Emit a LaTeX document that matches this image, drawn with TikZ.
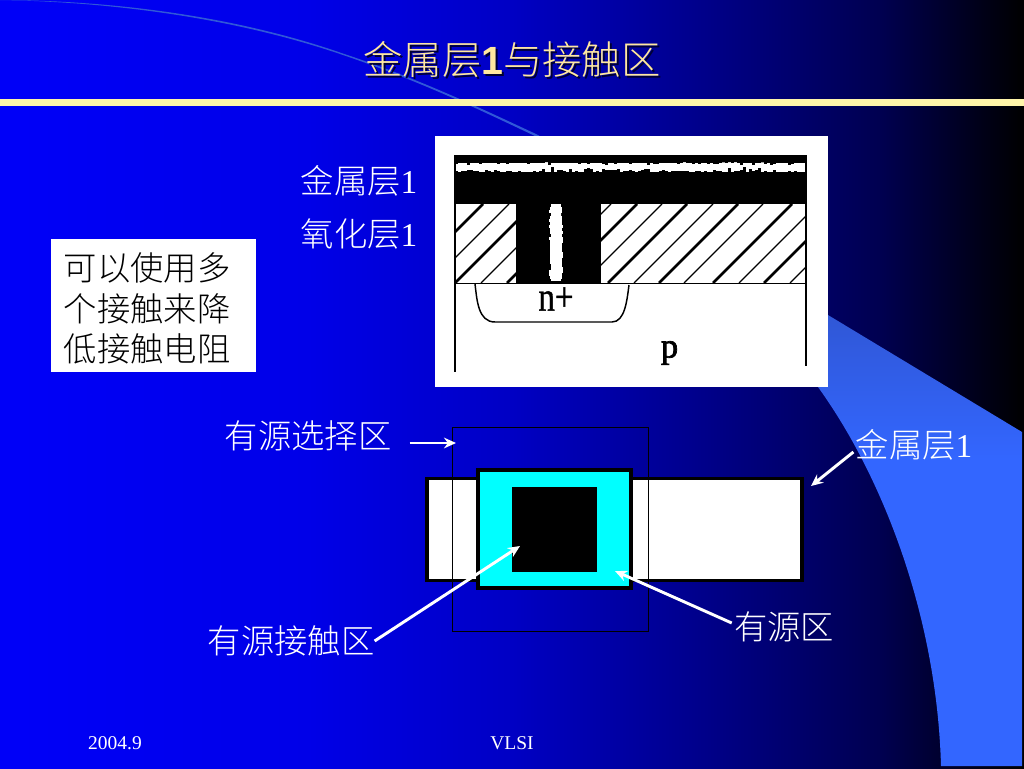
\documentclass[tikz,border=0pt]{standalone}
\usepackage{fontspec}
\setmainfont{Liberation Serif}
\newfontfamily\cjk{Noto Sans CJK SC Light}
\newfontfamily\arialf{Liberation Sans}
\newfontfamily\bmpn[FakeBold=1]{Liberation Serif}
\newfontfamily\bmpp[FakeBold=2]{Liberation Serif}
\usetikzlibrary{arrows.meta}
\definecolor{ca}{RGB}{0,0,248}
\definecolor{cb}{RGB}{0,0,232}
\definecolor{cc}{RGB}{0,0,196}
\definecolor{cd}{RGB}{0,0,140}
\definecolor{ce}{RGB}{0,0,80}
\definecolor{cf}{RGB}{0,0,0}
\definecolor{crescent}{RGB}{51,102,255}
\definecolor{crescenttop}{RGB}{48,88,216}
\definecolor{titlecol}{RGB}{255,232,160}
\definecolor{barcol}{RGB}{255,245,170}
\definecolor{cyanbox}{RGB}{0,255,255}
\pgfdeclarehorizontalshading{slidebg}{100bp}{color(0bp)=(ca);color(25bp)=(ca);color(40bp)=(cb);color(50bp)=(cc);color(59bp)=(cd);color(68bp)=(ce);color(75bp)=(cf);color(100bp)=(cf)}
\pgfdeclareverticalshading{crescentbg}{100bp}{color(0bp)=(crescent);color(45bp)=(crescent);color(54bp)=(crescenttop);color(100bp)=(crescenttop)}
\tikzset{
  lab/.style={inner sep=0pt,text=white,font=\fontsize{25pt}{25pt}\selectfont\cjk},
  foot/.style={inner sep=0pt,text=white,font=\fontsize{14.6pt}{15pt}\selectfont},
  wharrow/.style={draw=white,line width=2.2pt,-{Stealth[length=9pt,width=8pt]}},
  hatchthin/.style={black,line width=1pt},
  hatchthick/.style={black,line width=1.9pt}
}
\begin{document}
\begin{tikzpicture}[x=0.75pt,y=-0.75pt]
\useasboundingbox (0,0) rectangle (1024,768);
\shade[shading=slidebg] (0,0) rectangle (1024,768);
% crescent
\shade[shading=crescentbg] (0,0) .. controls (120,2) and (240,20) .. (340,54)
  .. controls (420,81) and (480,110) .. (535,136)
  .. controls (650,195) and (750,300) .. (818,387)
  .. controls (885,480) and (937,620) .. (941,766)
  -- (1022,766) -- (1022,432) -- (828,315)
  .. controls (730,250) and (640,190) .. (536,134)
  .. controls (480,108) and (420,79) .. (340,52.5)
  .. controls (240,18) and (120,0.5) .. (0,0) -- cycle;
% title
\node[inner sep=0pt,text=black!80!blue,font=\fontsize{29.5pt}{30pt}\selectfont\cjk] (titleshadow) at (514,62) {金属层{\arialf\bfseries 1}与接触区};
\node[inner sep=0pt,text=titlecol,font=\fontsize{29.5pt}{30pt}\selectfont\cjk] (title) at (512,60) {金属层{\arialf\bfseries 1}与接触区};
\fill[barcol] (0,99) rectangle (1024,105.5);
% cross-section picture
\fill[white] (435,136) rectangle (828,387);
\fill[black] (454,155) rectangle (807,204);
\fill[white] (455,162) rectangle (806,172);
\pgfmathsetseed{11}
\foreach \x in {455,458,...,803}{
  \pgfmathsetmacro{\ha}{rnd*rnd*4}
  \pgfmathsetmacro{\hb}{rnd*rnd*5}
  \fill[black] (\x,162) rectangle (\x+3,162+\ha);
  \fill[black] (\x,172) rectangle (\x+3,172-\hb);
}
\begin{scope}
\clip (456,204) rectangle (806,283);
\foreach \s in {483,534,586,637,687,738,792,843}
  \draw[hatchthick] (\s,204) -- (\s-79,283);
\foreach \s in {509,560,611,662,713,763,818,869}
  \draw[hatchthin] (\s,204) -- (\s-79,283);
\end{scope}
\fill[black] (516,204) rectangle (601,283);
\fill[white] (551,204) rectangle (561,281);
\foreach \y in {207,210,...,276}{
  \pgfmathsetmacro{\wa}{rnd*2.5}
  \pgfmathsetmacro{\wb}{rnd*2.5}
  \fill[white] (551,\y) rectangle (551-\wa,\y+3);
  \fill[white] (561,\y) rectangle (561+\wb,\y+3);
}
\draw[black,line width=1.2pt] (455,155) -- (455,372);
\draw[black,line width=1.2pt] (806,155) -- (806,366);
\draw[black,line width=1.2pt] (455,283.5) -- (806,283.5);
\draw[black,line width=1.1pt] (475,284) .. controls (477,300) and (478,322) .. (495,322) -- (612,322) .. controls (625,322) and (627,300) .. (629,285);
\node[inner sep=0pt,text=black,font=\fontsize{31pt}{31pt}\selectfont\bmpn] (nplus) at (556,299) {\scalebox{.8}[1]{n+}};
\node[inner sep=0pt,text=black,font=\fontsize{26pt}{26pt}\selectfont\bmpp] (ptype) at (669.5,353) {p};
% note box
\node[inner sep=0pt,fill=white,minimum width=205*0.75pt,minimum height=133*0.75pt] (notebox) at (153.5,305.5) {};
\node[inner sep=0pt,text=black,align=left,font=\fontsize{25pt}{30.4pt}\selectfont\cjk] (note) at (147,308.5) {可以使用多\\个接触来降\\低接触电阻};
% labels
\node[lab] (m1a) at (359,181) {金属层{\rmfamily 1}};
\node[lab] (ox) at (359,234) {氧化层{\rmfamily 1}};
\node[lab] (sel) at (308,436) {有源选择区};
\node[lab] (m1b) at (914,445) {金属层{\rmfamily 1}};
\node[lab] (cont) at (291,641) {有源接触区};
\node[lab] (act) at (784,627) {有源区};
% layout
\draw[black,line width=2.4pt,fill=white] (427,478.5) rectangle (802,580.5);
\draw[black,line width=0.75pt] (452,427) rectangle (648,631);
\draw[black,line width=2.4pt,fill=cyanbox] (478,470) rectangle (631,588);
\fill[black] (512,487) rectangle (597,572);
\coordinate (selend) at (456,443);
\coordinate (barend) at (811,486);
\coordinate (squareend) at (520,546);
\coordinate (cyanend) at (615,571);
\draw[wharrow] ([shift={(18,7)}]sel.east) -- (selend);
\draw[wharrow] ([shift={(-2,7)}]m1b.west) -- (barend);
\draw[wharrow] (cont.east) -- (squareend);
\draw[wharrow] ([shift={(-2,-4)}]act.west) -- (cyanend);
% footer
\node[foot] (date) at (115,743.5) {2004.9};
\node[foot] (vlsi) at (512,743.5) {VLSI};
\end{tikzpicture}
\end{document}
